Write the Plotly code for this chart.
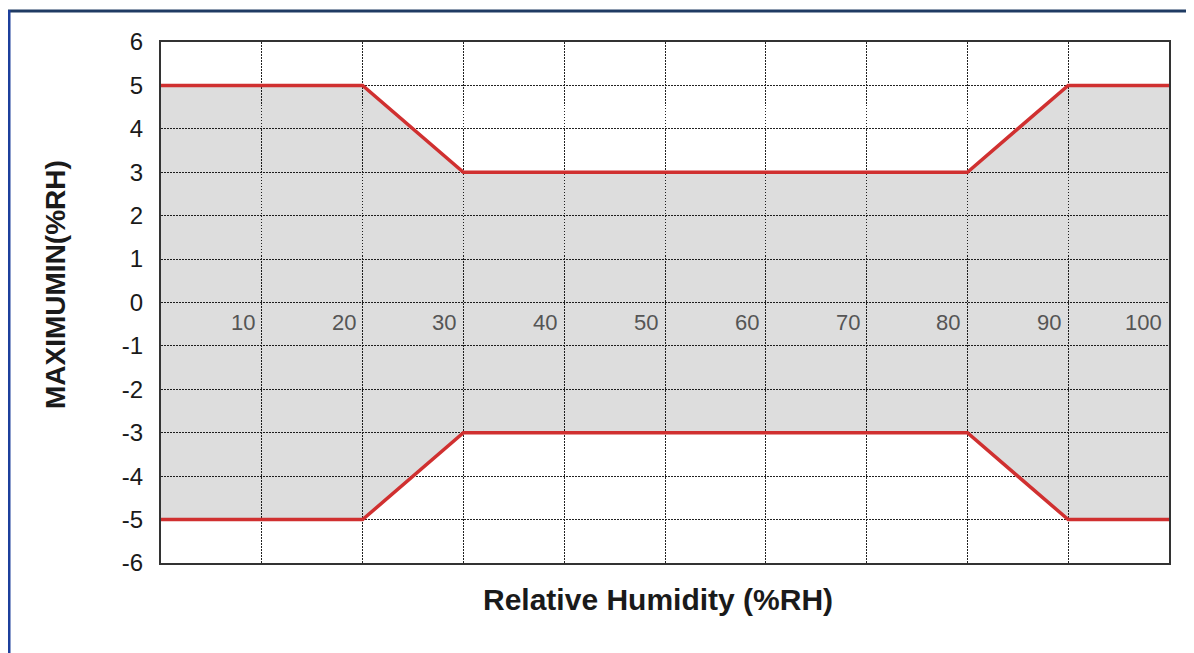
import plotly.graph_objects as go

rh = [0, 20, 30, 80, 90, 100]
upper = [5, 5, 3, 3, 5, 5]
lower = [-5, -5, -3, -3, -5, -5]
x_tick_vals = [10, 20, 30, 40, 50, 60, 70, 80, 90, 100]
y_tick_vals = [6, 5, 4, 3, 2, 1, 0, -1, -2, -3, -4, -5, -6]
y_tick_text = [str(v) for v in y_tick_vals]

W, H = 1194, 653          # screenshot size
OFF = 8                   # page body margin
L, R, T, B = 161, 1169, 42, 563   # plot area in screenshot pixels

def px(x):
    return (x - L) / (R - L)

def py(y):
    return (B - y) / (B - T)

FONT = "Liberation Sans, Arial, sans-serif"

fig = go.Figure()
fig.add_trace(go.Scatter(x=rh, y=lower, mode="lines",
                         line=dict(color="#d03030", width=3.5), hoverinfo="skip"))
fig.add_trace(go.Scatter(x=rh, y=upper, mode="lines", fill="tonexty",
                         fillcolor="rgba(0,0,0,0.135)",
                         line=dict(color="#d03030", width=3.5), hoverinfo="skip"))

for v in x_tick_vals:
    fig.add_annotation(x=v, y=-0.45, text=str(v), showarrow=False,
                       xanchor="right", yanchor="middle", xshift=-5,
                       font=dict(family=FONT, size=22, color="#555555"))

fig.add_annotation(xref="paper", yref="paper", x=px(658), y=py(599),
                   text="<b>Relative Humidity (%RH)</b>", showarrow=False,
                   xanchor="center", yanchor="middle",
                   font=dict(family=FONT, size=30, color="#1a1a1a"))
fig.add_annotation(xref="paper", yref="paper", x=px(55), y=py(285),
                   text="<b>MAXIMUMIN(%RH)</b>", showarrow=False, textangle=-90,
                   xanchor="center", yanchor="middle",
                   font=dict(family=FONT, size=28, color="#1a1a1a"))

fig.update_xaxes(range=[0, 100], tickvals=x_tick_vals, showticklabels=False,
                 showgrid=True, gridcolor="#222222", griddash="1.5px,1.5px", gridwidth=1.4,
                 showline=True, linecolor="#333333", linewidth=2, mirror=True,
                 zeroline=False, ticks="")
fig.update_yaxes(range=[-6, 6], tickvals=y_tick_vals, ticktext=y_tick_text,
                 showgrid=True, gridcolor="#222222", griddash="1.5px,1.5px", gridwidth=1.4,
                 showline=True, linecolor="#333333", linewidth=2, mirror=True,
                 zeroline=False, ticks="", ticklabelstandoff=11,
                 tickfont=dict(family=FONT, size=24, color="#1a1a1a"))

fig.add_shape(type="line", xref="paper", yref="paper",
              x0=px(0), x1=px(W), y0=py(11), y1=py(11),
              line=dict(color="#1f3b63", width=3))
fig.add_shape(type="line", xref="paper", yref="paper",
              x0=px(9), x1=px(9), y0=py(10), y1=py(H),
              line=dict(color="#1c3f9c", width=3))

fig.update_layout(width=W - OFF, height=H - OFF, showlegend=False,
                  margin=dict(l=L - OFF, r=W - R, t=T - OFF, b=H - B),
                  paper_bgcolor="white", plot_bgcolor="white")

fig.write_html("out.html")
